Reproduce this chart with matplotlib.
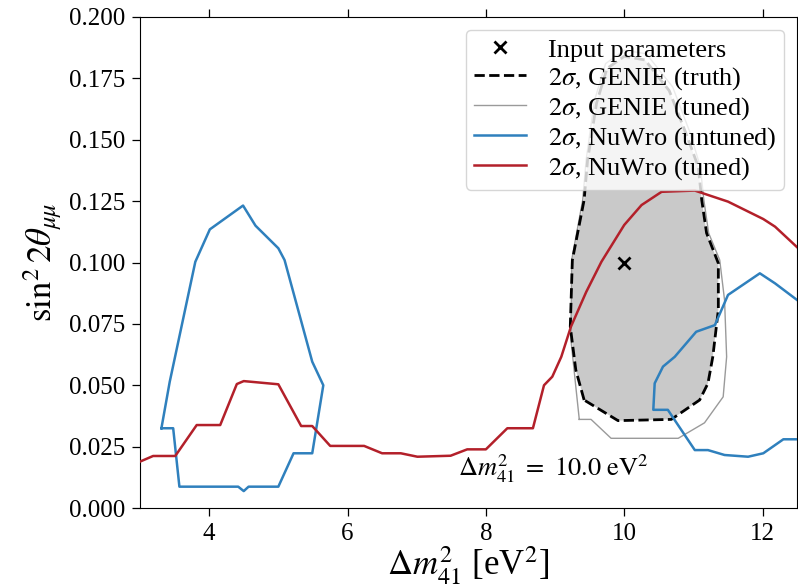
import numpy as np
import matplotlib
matplotlib.use("Agg")
import matplotlib.pyplot as plt

plt.rcParams["font.family"] = "serif"
plt.rcParams["font.serif"] = ["Liberation Serif", "DejaVu Serif"]
plt.rcParams["mathtext.fontset"] = "stix"

# injected oscillation point
dm2_true = 10.0
sin2_true = 0.1

# 2 sigma contour, GENIE truth (closed)
genie_truth_x = [9.42, 9.30, 9.22, 9.25, 9.42, 9.47, 9.60, 9.75, 10.00, 10.30, 10.65,
                 10.90, 11.07, 11.12, 11.19, 11.36, 11.36, 11.28, 11.21, 11.09, 10.68,
                 9.91, 9.42]
genie_truth_y = [0.0440, 0.0562, 0.0739, 0.1010, 0.1255, 0.1417, 0.1650, 0.1790, 0.1840,
                 0.1825, 0.1700, 0.1520, 0.1390, 0.1255, 0.1120, 0.0997, 0.0807, 0.0616,
                 0.0508, 0.0440, 0.0361, 0.0356, 0.0440]

# 2 sigma contour, GENIE tuned (closed)
genie_tuned_x = [9.35, 9.30, 9.23, 9.24, 9.40, 9.45, 9.57, 9.73, 10.00, 10.32, 10.70,
                 10.95, 11.10, 11.15, 11.22, 11.38, 11.45, 11.48, 11.43, 11.16, 10.78,
                 9.81, 9.52, 9.35]
genie_tuned_y = [0.0361, 0.0494, 0.0684, 0.1010, 0.1255, 0.1420, 0.1660, 0.1810, 0.1865,
                 0.1850, 0.1715, 0.1530, 0.1390, 0.1255, 0.1120, 0.1010, 0.0847, 0.0616,
                 0.0453, 0.0347, 0.0284, 0.0284, 0.0361, 0.0361]

# 2 sigma contour, NuWro untuned: closed island at low dm2 plus open arc at high dm2
nuwro_untuned_lo_x = [3.31, 3.48, 3.57, 4.42, 4.50, 4.57, 5.00, 5.22, 5.49, 5.65, 5.49,
                      5.09, 5.00, 4.67, 4.49, 4.01, 3.80, 3.43, 3.31]
nuwro_untuned_lo_y = [0.0325, 0.0325, 0.0087, 0.0087, 0.0069, 0.0087, 0.0087, 0.0223,
                      0.0223, 0.0500, 0.0596, 0.1010, 0.1058, 0.1150, 0.1232, 0.1135,
                      0.1003, 0.0514, 0.0325]
nuwro_untuned_hi_x = [12.50, 12.30, 12.01, 11.79, 11.45, 11.21, 11.02, 10.63, 10.42,
                      10.44, 10.56, 10.73, 11.04, 11.31, 11.50, 11.96, 12.18, 12.50]
nuwro_untuned_hi_y = [0.0280, 0.0280, 0.0223, 0.0209, 0.0216, 0.0236, 0.0236, 0.0400,
                      0.0400, 0.0508, 0.0576, 0.0616, 0.0718, 0.0745, 0.0868, 0.0956,
                      0.0915, 0.0847]

# 2 sigma contour, NuWro tuned
nuwro_tuned_x = [3.00, 3.19, 3.51, 3.82, 4.16, 4.40, 4.50, 5.00, 5.33, 5.49, 5.75, 6.24,
                 6.50, 6.77, 7.01, 7.49, 7.73, 8.00, 8.31, 8.68, 8.84, 8.96, 9.09, 9.23,
                 9.45, 9.67, 10.00, 10.25, 10.54, 11.02, 11.50, 12.01, 12.18, 12.50]
nuwro_tuned_y = [0.0189, 0.0212, 0.0212, 0.0338, 0.0338, 0.0505, 0.0517, 0.0504, 0.0334,
                 0.0334, 0.0253, 0.0253, 0.0223, 0.0223, 0.0209, 0.0213, 0.0239, 0.0239,
                 0.0325, 0.0325, 0.0500, 0.0535, 0.0616, 0.0739, 0.0880, 0.1003,
                 0.1153, 0.1234, 0.1288, 0.1293, 0.1248, 0.1177, 0.1146, 0.1062]

blue = "#2f80bd"
red = "#b3202a"

fig = plt.figure(figsize=(7.98, 5.88), dpi=100)
ax = fig.add_axes([0.1754, 0.136, 0.8236, 0.8351])

ax.fill(genie_truth_x, genie_truth_y, color="#c9c9c9", lw=0, zorder=1)
ax.plot(dm2_true, sin2_true, "x", color="k", ms=8, mew=2, ls="none",
        label="Input parameters", zorder=6)
ax.plot(genie_truth_x, genie_truth_y, "k--", lw=2, label=r"$2\sigma$, GENIE (truth)", zorder=3)
ax.plot(genie_tuned_x, genie_tuned_y, color="#9a9a9a", lw=1, label=r"$2\sigma$, GENIE (tuned)",
        zorder=2)
ax.plot(nuwro_untuned_lo_x, nuwro_untuned_lo_y, color=blue, lw=1.8,
        label=r"$2\sigma$, NuWro (untuned)", zorder=4)
ax.plot(nuwro_untuned_hi_x, nuwro_untuned_hi_y, color=blue, lw=1.8, zorder=4)
ax.plot(nuwro_tuned_x, nuwro_tuned_y, color=red, lw=1.8, label=r"$2\sigma$, NuWro (tuned)",
        zorder=5)

ax.text(7.6, 0.013, r"$\Delta m^2_{41}\ =\ 10.0\ \mathrm{eV}^2$", fontsize=19, va="baseline")

ax.set_xlim(3, 12.5)
ax.set_ylim(0, 0.2)
ax.set_xticks([4, 6, 8, 10, 12])
ax.set_yticks(np.arange(0, 0.201, 0.025))
ax.yaxis.set_major_formatter(matplotlib.ticker.FormatStrFormatter("%.3f"))
ax.tick_params(axis="both", which="major", labelsize=18, length=5.5, width=0.9,
               direction="out", pad=5)
ax.tick_params(axis="x", top=True)
ax.set_xlabel(r"$\Delta m^2_{41}$ [eV$^2$]", fontsize=25, labelpad=0)
ax.set_ylabel(r"$\sin^2 2\theta_{\mu\mu}$", fontsize=25, labelpad=4)

ax.legend(loc="upper right", fontsize=19, labelspacing=0.12, borderpad=0.3,
          handletextpad=0.8, framealpha=0.8)

fig.savefig("out.png", dpi=100)
